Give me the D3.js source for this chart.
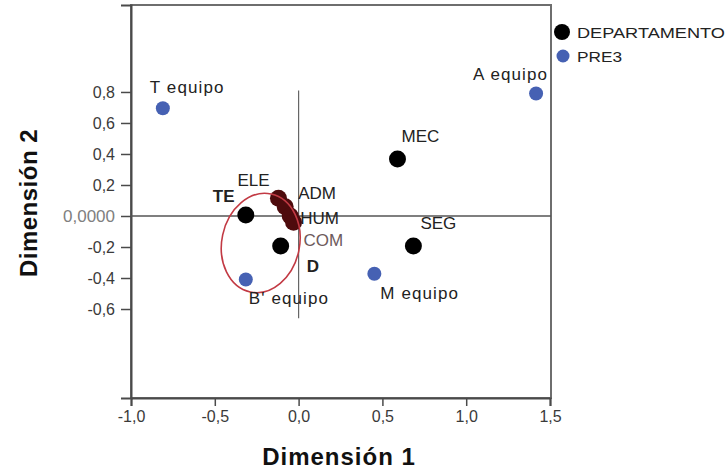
<!DOCTYPE html>
<html>
<head>
<meta charset="utf-8">
<script src="https://cdn.jsdelivr.net/npm/d3@7"></script>
<style>
  body { margin: 0; background: #fff; }
  text { font-family: "Liberation Sans", Arial, sans-serif; }
  .tick text { fill: #3a3a3a; font-size: 16px; }
  .lbl { fill: #222; font-size: 17px; }
</style>
</head>
<body>
<svg id="chart" width="727" height="474"></svg>
<script>
// DEPARTAMENTO (row points)
var deptNames = ["MEC", "SEG", "TE", "ELE", "ADM", "HUM", "COM", "D"];
var deptDim1  = [0.59, 0.685, -0.315, -0.12, -0.08, -0.05, -0.03, -0.107];
var deptDim2  = [0.367, -0.193, 0.006, 0.115, 0.06, 0.0, -0.04, -0.193];

// PRE3 (column points)
var preNames = ["T equipo", "A equipo", "B' equipo", "M equipo"];
var preDim1  = [-0.81, 1.417, -0.315, 0.452];
var preDim2  = [0.695, 0.79, -0.41, -0.373];

// axis ticks
var xTicks = [-1.0, -0.5, 0.0, 0.5, 1.0, 1.5];
var yTicks = [-0.6, -0.4, -0.2, 0.0, 0.2, 0.4, 0.6, 0.8];

// hand drawn ring around the cluster (data units)
var ringCenter = [-0.226, -0.174];
var ringRadius = [0.232, 0.323];

var svg = d3.select("#chart");

var plotL = 131, plotR = 551, plotT = 5, plotB = 398;

var x = d3.scaleLinear().domain([-1.0, 1.5]).range([plotL, plotR - 1]);
var y = d3.scaleLinear().domain([-1.174, 1.361]).range([plotB, plotT]);

var loc = d3.formatLocale({decimal: ",", thousands: ".", grouping: [3], currency: ["", ""], minus: "-"});
var f1 = loc.format(".1f");

/*
  frame
*/
svg.append("rect")
  .attr("x", plotL).attr("y", plotT)
  .attr("width", plotR - plotL).attr("height", plotB - plotT)
  .attr("fill", "none")
  .attr("stroke", "#6e6e6e")
  .attr("stroke-width", 2);

/*
  axes
*/
var xAxis = svg.append("g")
  .attr("transform", "translate(0," + plotB + ")")
  .call(d3.axisBottom(x).tickValues(xTicks).tickFormat(f1).tickSize(8).tickPadding(5));
var yAxis = svg.append("g")
  .attr("transform", "translate(" + plotL + ",0)")
  .call(d3.axisLeft(y).tickValues(yTicks).tickSize(10).tickPadding(6)
    .tickFormat(function(d) { return d === 0 ? "0,0000" : f1(d); }));

svg.selectAll(".domain").attr("stroke", "#4a4a4a").attr("stroke-width", 2);
svg.selectAll(".tick line").attr("stroke", "#4a4a4a").attr("stroke-width", 1.5);
yAxis.selectAll(".tick text").filter(function(d) { return d === 0; })
  .style("fill", "#808080").style("font-size", "17px");

/*
  reference lines through the origin
*/
svg.append("line")
  .attr("x1", plotL).attr("x2", plotR)
  .attr("y1", y(0)).attr("y2", y(0))
  .attr("stroke", "#555").attr("stroke-width", 1.5);
svg.append("line")
  .attr("x1", x(0)).attr("x2", x(0))
  .attr("y1", y(0.81)).attr("y2", y(-0.66))
  .attr("stroke", "#666").attr("stroke-width", 1.2);

/*
  axis titles
*/
svg.append("text")
  .attr("x", (plotL + plotR) / 2 - 2)
  .attr("y", 465)
  .attr("text-anchor", "middle")
  .style("font-size", "24px").style("font-weight", "bold").style("fill", "#111")
  .style("letter-spacing", "1px")
  .text("Dimensión 1");
svg.append("text")
  .attr("transform", "translate(37," + 203 + ") rotate(-90)")
  .attr("text-anchor", "middle")
  .style("font-size", "24px").style("font-weight", "bold").style("fill", "#111")
  .style("letter-spacing", "0.5px")
  .text("Dimensión 2");

/*
  points
*/
var dept = deptNames.map(function(n, i) { return {name: n, d1: deptDim1[i], d2: deptDim2[i]}; });
var pre = preNames.map(function(n, i) { return {name: n, d1: preDim1[i], d2: preDim2[i]}; });

var dark = ["ELE", "ADM", "HUM", "COM"];

svg.selectAll("circle.pre").data(pre).enter().append("circle")
  .attr("class", "pre")
  .attr("cx", function(d) { return x(d.d1); })
  .attr("cy", function(d) { return y(d.d2); })
  .attr("r", 7)
  .attr("fill", "#4661b3");

svg.selectAll("circle.dept").data(dept).enter().append("circle")
  .attr("class", "dept")
  .attr("cx", function(d) { return x(d.d1); })
  .attr("cy", function(d) { return y(d.d2); })
  .attr("r", 8.5)
  .attr("fill", function(d) { return dark.indexOf(d.name) >= 0 ? "#4e0b0d" : "#000"; });

/*
  ring
*/
var rx = x(ringCenter[0] + ringRadius[0]) - x(ringCenter[0]);
var ry = y(ringCenter[1]) - y(ringCenter[1] + ringRadius[1]);
svg.append("ellipse")
  .attr("transform", "translate(" + x(ringCenter[0]) + "," + y(ringCenter[1]) + ") rotate(12)")
  .attr("rx", rx).attr("ry", ry)
  .attr("fill", "none")
  .attr("stroke", "#c23a44")
  .attr("stroke-width", 1.6);

/*
  point labels (pixel offsets from the point)
*/
var labelShift = {
  "MEC": [4, -17], "SEG": [7, -17], "TE": [-33, -13], "ELE": [-41, -12],
  "ADM": [13, -8], "HUM": [10, 8], "COM": [10, 24], "D": [26, 26],
  "T equipo": [-13, -15], "A equipo": [-63, -14], "B' equipo": [3, 24], "M equipo": [6, 25]
};
var bold = ["TE", "D"];

svg.selectAll("text.lbl").data(dept.concat(pre)).enter().append("text")
  .attr("class", "lbl")
  .attr("x", function(d) { return x(d.d1) + labelShift[d.name][0]; })
  .attr("y", function(d) { return y(d.d2) + labelShift[d.name][1]; })
  .style("font-weight", function(d) { return bold.indexOf(d.name) >= 0 ? "bold" : "normal"; })
  .style("letter-spacing", function(d) { return preNames.indexOf(d.name) >= 0 ? "1.1px" : "0px"; })
  .style("fill", function(d) { return d.name === "COM" ? "#6d5a5c" : "#222"; })
  .text(function(d) { return d.name; });

/*
  legend
*/
var legend = svg.append("g").attr("transform", "translate(562,0)");
legend.append("circle").attr("cx", 0).attr("cy", 32).attr("r", 8).attr("fill", "#000");
legend.append("circle").attr("cx", 1).attr("cy", 56).attr("r", 6.5).attr("fill", "#4661b3");
legend.append("text").attr("x", 15).attr("y", 38)
  .attr("textLength", 148).attr("lengthAdjust", "spacingAndGlyphs")
  .style("font-size", "15px").style("fill", "#222").text("DEPARTAMENTO");
legend.append("text").attr("x", 15).attr("y", 62)
  .attr("textLength", 45).attr("lengthAdjust", "spacingAndGlyphs")
  .style("font-size", "15px").style("fill", "#222").text("PRE3");
</script>
</body>
</html>
